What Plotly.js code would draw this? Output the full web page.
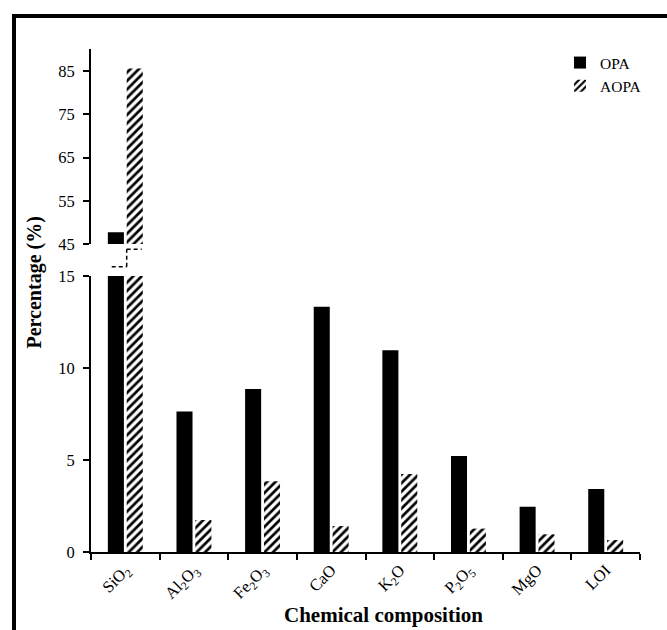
<!DOCTYPE html>
<html>
<head>
<meta charset="utf-8">
<script src="https://cdn.plot.ly/plotly-3.0.1.min.js"></script>
<style>html,body{margin:0;padding:0;background:#fff;}#chart{width:667px;height:630px;}</style>
</head>
<body>
<div id="chart"></div>
<script>
var categories = ["SiO<sub>2</sub>", "Al<sub>2</sub>O<sub>3</sub>", "Fe<sub>2</sub>O<sub>3</sub>", "CaO", "K<sub>2</sub>O", "P<sub>2</sub>O<sub>5</sub>", "MgO", "LOI"];
var opa = [47.7, 7.63, 8.86, 13.33, 10.96, 5.22, 2.46, 3.42];
var aopa = [85.6, 1.74, 3.84, 1.41, 4.24, 1.27, 0.96, 0.65];
var lowerTicks = [0, 5, 10, 15];
var upperTicks = [45, 55, 65, 75, 85];

var FONT = "'Liberation Serif', 'Times New Roman', serif";
var hatch = {shape: "/", fgcolor: "#000", bgcolor: "#fff", size: 6, solidity: 0.45};

var traces = [
  {type: "bar", name: "OPA", x: categories, y: opa, xaxis: "x", yaxis: "y",
   marker: {color: "#000", line: {width: 0}}, legendgroup: "opa"},
  {type: "bar", name: "AOPA", x: categories, y: aopa, xaxis: "x", yaxis: "y",
   marker: {color: "#fff", pattern: hatch, line: {width: 0}}, legendgroup: "aopa"},
  {type: "bar", name: "OPA", x: categories, y: opa, xaxis: "x", yaxis: "y2",
   marker: {color: "#000", line: {width: 0}}, legendgroup: "opa", showlegend: false},
  {type: "bar", name: "AOPA", x: categories, y: aopa, xaxis: "x", yaxis: "y2",
   marker: {color: "#fff", pattern: hatch, line: {width: 0}}, legendgroup: "aopa", showlegend: false}
];

// plot area: x 91..640, y 49..552
var yPaper = function(py){ return (552 - py) / 503; };
var xPaper = function(px){ return (px - 91) / 549; };
var tickFont = {family: FONT, size: 16.5, color: "#000"};

var layout = {
  width: 667, height: 630,
  margin: {l: 91, r: 27, t: 49, b: 78, pad: 0},
  paper_bgcolor: "#fff", plot_bgcolor: "#fff",
  font: {family: FONT, size: 16, color: "#000"},
  barmode: "group", bargap: 0.45, bargroupgap: 0.15,
  showlegend: true,
  legend: {x: xPaper(560), y: yPaper(46), xanchor: "left", yanchor: "top",
           font: {family: FONT, size: 15.5, color: "#000"}, bgcolor: "rgba(0,0,0,0)",
           tracegroupgap: 0, traceorder: "normal"},
  xaxis: {type: "category", anchor: "y", showline: true, linecolor: "#000", linewidth: 2,
          ticks: "outside", tickson: "boundaries", ticklen: 6, tickwidth: 2, tickcolor: "#000",
          tickangle: -45, tickfont: tickFont,
          showgrid: false, zeroline: false, fixedrange: true},
  yaxis: {domain: [0, yPaper(276)], range: [0, 15], tickvals: lowerTicks,
          showline: true, linecolor: "#000", linewidth: 2, ticks: "outside", ticklen: 6,
          tickwidth: 2, tickcolor: "#000", showgrid: false, zeroline: false,
          ticklabelstandoff: 5, tickfont: tickFont, anchor: "x"},
  yaxis2: {domain: [yPaper(244), 1], range: [45, 90.1], tickvals: upperTicks,
           showline: true, linecolor: "#000", linewidth: 2, ticks: "outside", ticklen: 6,
           tickwidth: 2, tickcolor: "#000", showgrid: false, zeroline: false,
           ticklabelstandoff: 5, tickfont: tickFont, anchor: "x"},
  annotations: [
    {text: "<b>Chemical composition</b>", xref: "paper", yref: "paper",
     x: xPaper(383), y: yPaper(615), xanchor: "center", yanchor: "middle",
     showarrow: false, font: {family: FONT, size: 21, color: "#000"}},
    {text: "<b>Percentage (%)</b>", xref: "paper", yref: "paper", textangle: -90,
     x: xPaper(34), y: yPaper(282.5), xanchor: "center", yanchor: "middle",
     showarrow: false, font: {family: FONT, size: 20, color: "#000"}}
  ],
  shapes: [
    {type: "rect", xref: "paper", yref: "paper", x0: xPaper(14), x1: 1.5, y0: -1, y1: yPaper(16),
     line: {color: "#000", width: 4}, fillcolor: "rgba(0,0,0,0)", layer: "above"},
    {type: "line", xref: "x", yref: "paper", x0: -0.198, x1: 0.02, y0: yPaper(266.7), y1: yPaper(266.7),
     line: {color: "#000", width: 1.5, dash: "4px,3px"}},
    {type: "line", xref: "x", yref: "paper", x0: 0.02, x1: 0.02, y0: yPaper(266.7), y1: yPaper(249.3),
     line: {color: "#000", width: 1.5, dash: "4px,3px"}},
    {type: "line", xref: "x", yref: "paper", x0: 0.02, x1: 0.239, y0: yPaper(249.3), y1: yPaper(249.3),
     line: {color: "#000", width: 1.5, dash: "4px,3px"}}
  ]
};

Plotly.newPlot("chart", traces, layout, {displayModeBar: false, staticPlot: true});
</script>
</body>
</html>
